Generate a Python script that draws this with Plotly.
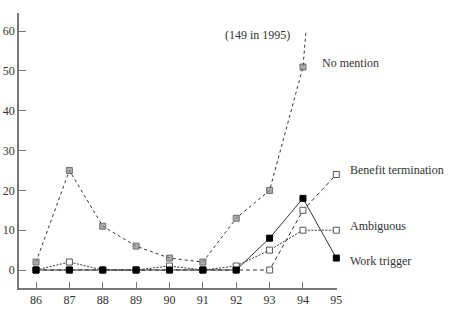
import plotly.graph_objects as go

years = [86, 87, 88, 89, 90, 91, 92, 93, 94, 95]
tick_labels = ["86", "87", "88", "89", "90", "91", "92", "93", "94", "95"]
no_mention = [2, 25, 11, 6, 3, 2, 13, 20, 51, 149]
benefit_termination = [0, 0, 0, 0, 0, 0, 0, 0, 15, 24]
ambiguous = [0, 2, 0, 0, 1, 0, 1, 5, 10, 10]
work_trigger = [0, 0, 0, 0, 0, 0, 0, 8, 18, 3]

CLIP_TOP = 60
FONT = "Liberation Serif"

# clip "No mention" at the top of the drawn scale (60), as in the original
nm_x, nm_y = [], []
for i, (x, y) in enumerate(zip(years, no_mention)):
    if y <= CLIP_TOP:
        nm_x.append(x)
        nm_y.append(y)
    else:
        x0, y0 = years[i - 1], no_mention[i - 1]
        frac = (CLIP_TOP - y0) / (y - y0)
        nm_x.append(x0 + frac * (x - x0))
        nm_y.append(CLIP_TOP)
        break
nm_size = [6] * (len(nm_x) - 1) + [0]

line_col = "#333333"
fig = go.Figure()
fig.add_trace(go.Scatter(
    x=nm_x, y=nm_y, mode="lines+markers",
    line=dict(color=line_col, width=1, dash="3px,3px"),
    marker=dict(symbol="square", size=nm_size, color="#8a8a8a",
                line=dict(color="#333333", width=1)),
    cliponaxis=False,
))
fig.add_trace(go.Scatter(
    x=years, y=benefit_termination, mode="lines+markers",
    line=dict(color=line_col, width=1, dash="4px,3px"),
    marker=dict(symbol="square", size=6, color="white",
                line=dict(color="#555555", width=1)),
    cliponaxis=False,
))
fig.add_trace(go.Scatter(
    x=years, y=ambiguous, mode="lines+markers",
    line=dict(color=line_col, width=1, dash="2px,1.5px"),
    marker=dict(symbol="square", size=6, color="white",
                line=dict(color="#555555", width=1)),
    cliponaxis=False,
))
fig.add_trace(go.Scatter(
    x=years, y=work_trigger, mode="lines+markers",
    line=dict(color=line_col, width=1),
    marker=dict(symbol="square", size=6, color="black",
                line=dict(color="black", width=1)),
    cliponaxis=False,
))

tf = dict(family=FONT, size=12, color="#333333")
LAB_X = 1.035  # paper x of the right-hand series labels
ann = [
    dict(x=92.65, xref="x", y=59, text="(149 in 1995)", xanchor="center", yanchor="middle"),
    dict(x=94.5, xref="x", y=51, text="No mention", xanchor="left", yanchor="middle", yshift=4),
    dict(x=LAB_X, xref="paper", y=benefit_termination[-1], text="Benefit termination",
         xanchor="left", yanchor="middle", yshift=4),
    dict(x=LAB_X, xref="paper", y=ambiguous[-1], text="Ambiguous",
         xanchor="left", yanchor="middle", yshift=4),
    dict(x=LAB_X, xref="paper", y=work_trigger[-1], text="Work trigger",
         xanchor="left", yanchor="middle", yshift=-3),
]
for a in ann:
    a.update(showarrow=False, font=tf, yref="y")

axis_col = "#777777"
fig.update_layout(
    width=451, height=309,
    margin=dict(l=19, r=114, t=13, b=21),
    paper_bgcolor="white", plot_bgcolor="white",
    showlegend=False,
    annotations=ann,
    xaxis=dict(range=[85.49, 95.02], tickmode="array", tickvals=years, ticktext=tick_labels,
               showgrid=False, zeroline=False, showline=True, linecolor=axis_col, linewidth=1.5,
               ticks="inside", ticklen=6, tickcolor=axis_col, tickwidth=1, automargin=False,
               tickfont=dict(family=FONT, size=12, color="#333333"), ticklabelstandoff=0),
    yaxis=dict(range=[-4.52, 64.57], tickmode="array", tickvals=[0, 10, 20, 30, 40, 50, 60],
               showgrid=False, zeroline=False, showline=True, linecolor=axis_col, linewidth=1.5,
               ticks="inside", ticklen=7, tickcolor=axis_col, tickwidth=1, automargin=False,
               tickfont=dict(family=FONT, size=12, color="#333333"), ticklabelstandoff=0),
)
fig.write_html("out.html")
